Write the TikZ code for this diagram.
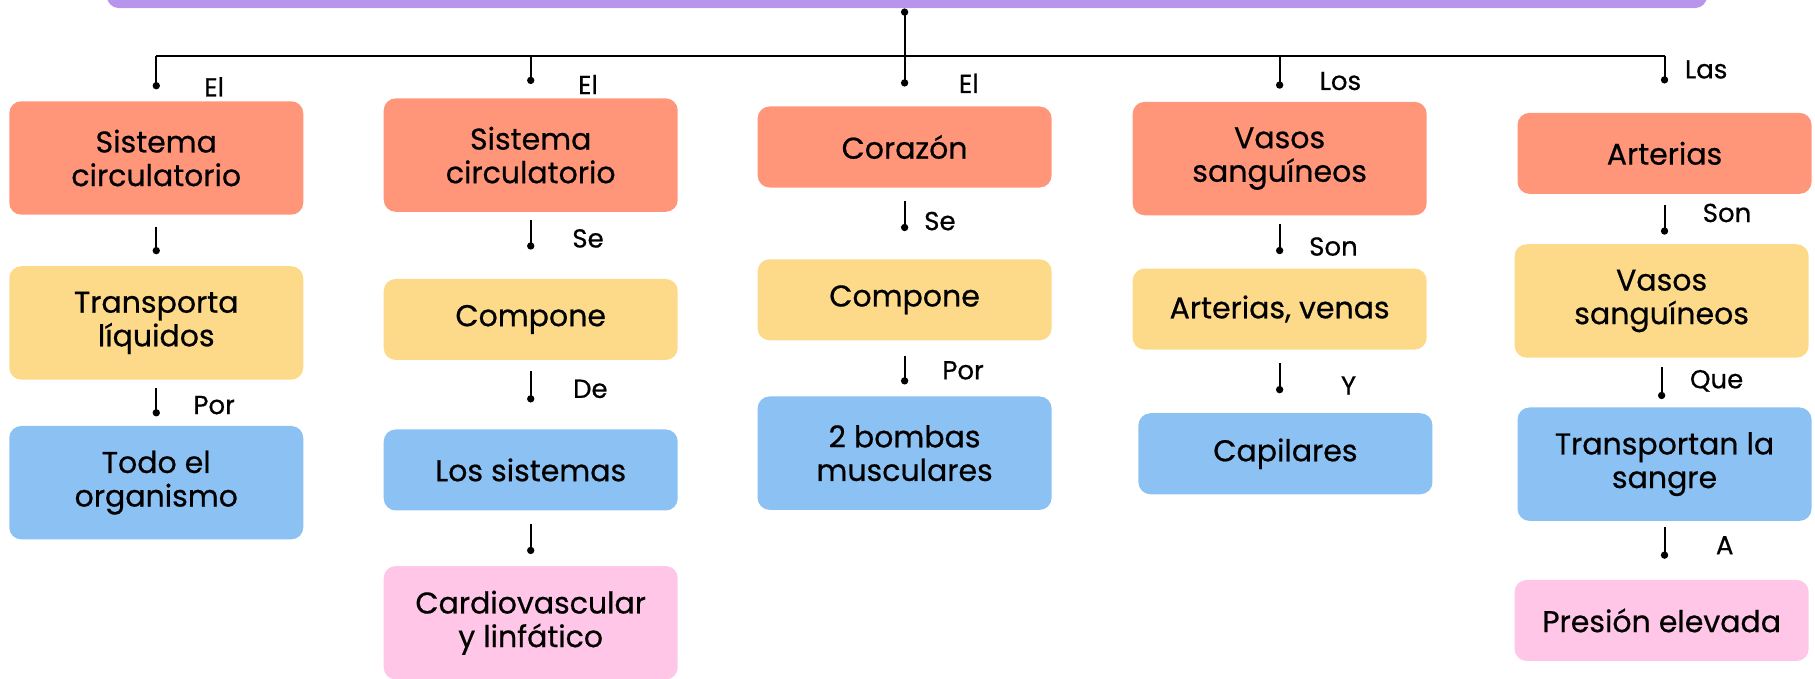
\documentclass[tikz,border=0pt]{standalone}
\usepackage{fontspec}
\setmainfont{Poppins}[FakeBold=0.6]
\usetikzlibrary{arrows.meta}

\definecolor{salmon}{HTML}{FF967A}
\definecolor{maiz}{HTML}{FDDA8A}
\definecolor{cielo}{HTML}{8BC1F3}
\definecolor{rosa}{HTML}{FFC6E8}
\definecolor{lila}{HTML}{B795EC}

\tikzset{
  box/.style={rounded corners=6pt, minimum width=147pt, inner sep=0pt,
    align=center, font=\fontsize{15}{16.8}\selectfont},
  highbox/.style={box, minimum height=56.7pt},
  lowbox/.style={box, minimum height=40.5pt},
  link/.style={draw, line width=1pt, -{Circle[length=3.6pt]}},
  tag/.style={font=\fontsize{13}{15}\selectfont}
}

\begin{document}
\begin{tikzpicture}[x=0.5787pt, y=-0.5787pt]
    \useasboundingbox (0,0) rectangle (1568,586);
    \clip (0,0) rectangle (1568,586);
    \node[box, fill=lila, minimum width=800pt, minimum height=54.4pt] (tema) at (783.5,-40) {};
    \coordinate (bar) at (0,48);

    % column 1
    \node[highbox, fill=salmon] (sc1) at (135,136.5) {Sistema\\circulatorio};
    \node[highbox, fill=maiz] (liq) at (135,279) {Transporta\\líquidos};
    \node[highbox, fill=cielo] (org) at (135,417) {Todo el\\organismo};
    % column 2
    \node[highbox, fill=salmon] (sc2) at (458.5,134) {Sistema\\circulatorio};
    \node[lowbox, fill=maiz] (comp2) at (458.5,276) {Compone};
    \node[lowbox, fill=cielo] (sis) at (458.5,406) {Los sistemas};
    \node[highbox, fill=rosa] (card) at (458.5,538) {Cardiovascular\\y linfático};
    % column 3
    \node[lowbox, fill=salmon] (cor) at (781.5,127) {Corazón};
    \node[lowbox, fill=maiz] (comp3) at (781.5,259) {Compone};
    \node[highbox, fill=cielo] (bomb) at (781.5,391.5) {2 bombas\\musculares};
    % column 4
    \node[highbox, fill=salmon] (vas4) at (1105.5,137) {Vasos\\sanguíneos};
    \node[lowbox, fill=maiz] (artv) at (1105.5,267) {Arterias, venas};
    \node[lowbox, fill=cielo] (cap) at (1110.5,392) {Capilares};
    % column 5
    \node[lowbox, fill=salmon] (art5) at (1438,132.5) {Arterias};
    \node[highbox, fill=maiz] (vas5) at (1435.5,260) {Vasos\\sanguíneos};
    \node[highbox, fill=cielo] (trans) at (1438,401) {Transportan la\\sangre};
    \node[lowbox, fill=rosa] (pres) at (1435.5,536) {Presión elevada};

    % labels
    \node[tag] (l11) at (185,75) {El};
    \node[tag] (l12) at (185,350) {Por};
    \node[tag] (l21) at (508,73) {El};
    \node[tag] (l22) at (508,206) {Se};
    \node[tag] (l23) at (510,336) {De};
    \node[tag] (l31) at (837,72) {El};
    \node[tag] (l32) at (812,191) {Se};
    \node[tag] (l33) at (832,320) {Por};
    \node[tag] (l41) at (1158,70) {Los};
    \node[tag] (l42) at (1152,213) {Son};
    \node[tag] (l43) at (1165,333) {Y};
    \node[tag] (l51) at (1474,60) {Las};
    \node[tag] (l52) at (1492,184) {Son};
    \node[tag] (l53) at (1483,329) {Que};
    \node[tag] (l54) at (1490,471) {A};

    % links
    \draw[line width=1pt] (sc1.north |- bar) -- (art5.north |- bar);
    \path[link, {Circle[length=3.6pt]}-{Circle[length=3.6pt]}, shorten >=9.8pt] (cor.north |- tema.south) -- (cor.north);
    \path[link, shorten >=5.8pt] (sc1.north |- bar) -- (sc1.north);
    \path[link, shorten >=7pt] (sc2.north |- bar) -- (sc2.north);
    \path[link, shorten >=6.4pt] (vas4.north |- bar) -- (vas4.north);
    \path[link, shorten >=14.5pt] (art5.north |- bar) -- (art5.north);

    \path[link, shorten <=5.8pt, shorten >=5.8pt] (sc1) -- (liq);
    \path[link, shorten <=4pt, shorten >=4.6pt] (liq) -- (org);
    \path[link, shorten <=4pt, shorten >=14.5pt] (sc2) -- (comp2);
    \path[link, shorten <=5.2pt, shorten >=13.3pt] (comp2) -- (sis);
    \path[link, shorten <=6.4pt, shorten >=5.8pt] (sis) -- (card);
    \path[link, shorten <=6.4pt, shorten >=13.9pt] (cor) -- (comp3);
    \path[link, shorten <=7.5pt, shorten >=5.8pt] (comp3) -- (bomb);
    \path[link, shorten <=4pt, shorten >=7pt] (vas4) -- (artv);
    \path[link, shorten <=6.4pt, shorten >=9.8pt] (artv.south) -- (artv.south |- cap.north);
    \path[link, shorten <=5.2pt, shorten >=4.6pt] (art5.south) -- (art5.south |- vas5.north);
    \path[link, shorten <=4.6pt, shorten >=4pt] (vas5.south) -- (vas5.south |- trans.north);
    \path[link, shorten <=2.9pt, shorten >=10.4pt] (trans.south) -- (trans.south |- pres.north);
\end{tikzpicture}
\end{document}
